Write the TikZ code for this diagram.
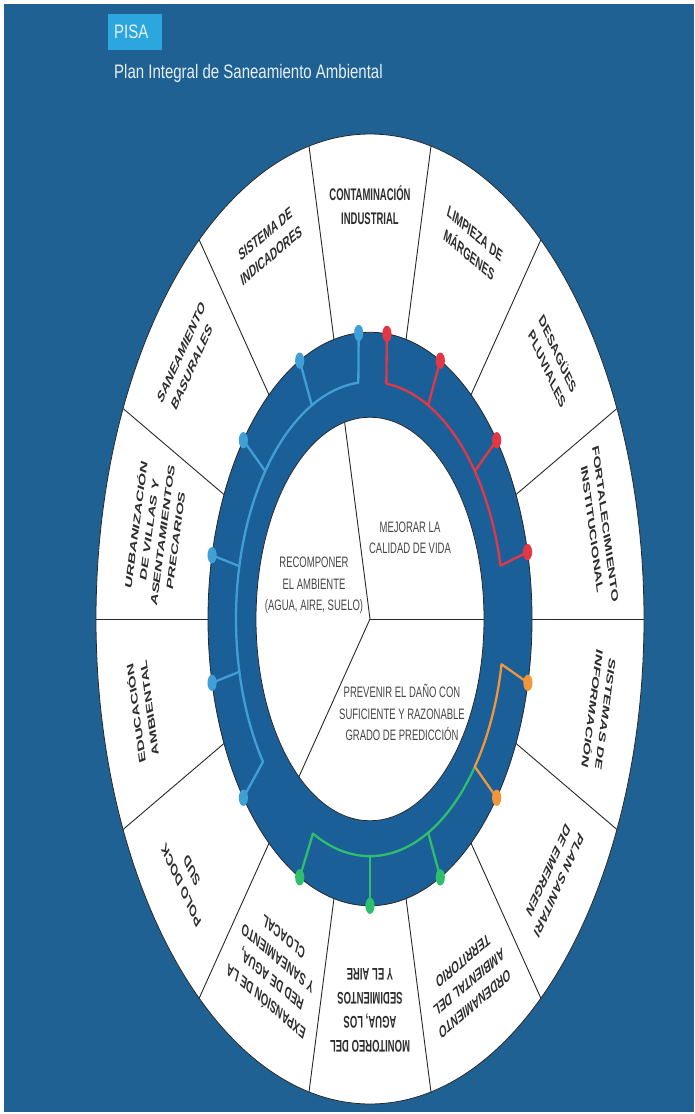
\documentclass[tikz,border=0pt]{standalone}
\usepackage{fontspec}
\setmainfont{Liberation Sans}
\definecolor{bgblue}{RGB}{31,97,146}
\definecolor{ringblue}{RGB}{27,95,152}
\definecolor{pisablue}{RGB}{43,166,222}
\definecolor{titlewhite}{RGB}{232,240,248}
\definecolor{labelgray}{RGB}{45,45,45}
\definecolor{centergray}{RGB}{70,70,70}
\definecolor{edgegray}{RGB}{40,40,40}
\definecolor{tlblue}{RGB}{64,160,214}
\definecolor{tlred}{RGB}{226,56,70}
\definecolor{tlorange}{RGB}{240,150,60}
\definecolor{tlgreen}{RGB}{46,190,110}
\tikzset{
  seglabel/.style={font=\fontsize{9.5}{13.5}\selectfont\bfseries, text=labelgray,
    align=center, anchor=north, inner sep=0pt},
  centerlabel/.style={font=\fontsize{9.5}{13.5}\selectfont, text=centergray,
    align=center, inner sep=0pt, yscale=0.9},
  divider/.style={draw=edgegray, line width=0.9pt},
  track/.style={line width=2.3pt, line cap=round, line join=round},
  titletext/.style={font=\fontsize{15}{18}\selectfont, text=titlewhite,
    inner sep=0pt, anchor=west, transform shape, yscale=1.3}
}
\begin{document}
\begin{tikzpicture}[x=1pt,y=1pt]
\useasboundingbox (0,0) rectangle (695,-1114);
\fill[bgblue] (4,-4) rectangle (694,-1112);
% title
\fill[pisablue] (108,-14) rectangle (162,-50);
\node[titletext] (pisa) at (114,-32) {PISA};
\node[titletext] (plan) at (114,-73) {Plan Integral de Saneamiento Ambiental};
% wheel
\begin{scope}[shift={(370,-619)}, yscale=1.77, transform shape]
  \fill[white] (0,0) circle (274);
  \draw[edgegray, line width=0.8pt] (0,0) circle (274);
  \foreach \k in {0,...,13}{
    \draw[divider] ({\k*360/14}:160) -- ({\k*360/14}:274);
  }
  \fill[ringblue] (0,0) circle (162);
  \draw[edgegray, line width=0.8pt] (0,0) circle (162);
  \fill[white] (0,0) circle (114);
  \draw[edgegray, line width=0.8pt] (0,0) circle (114);
  % centre sectors
  \coordinate (c0) at (0,0);
  \draw[divider] (c0) -- (0:114);
  \draw[divider] (c0) -- ({360/14*4}:114);
  \draw[divider] (c0) -- ({360/14*9}:114);
  \node[centerlabel] (mejorar) at (40,46) {MEJORAR LA\\CALIDAD DE VIDA};
  \node[centerlabel] (recomponer) at (-56,19) {RECOMPONER\\EL AMBIENTE\\(AGUA, AIRE, SUELO)};
  \node[centerlabel] (prevenir) at (32,-53) {PREVENIR EL DAÑO CON\\SUFICIENTE Y RAZONABLE\\GRADO DE PREDICCIÓN};
  % outer labels
  \def\lr{245}
  \node[seglabel, rotate=0] (s1) at (90:\lr) {CONTAMINACIÓN\\INDUSTRIAL};
  \node[seglabel, rotate=-25.714] (s2) at (64.286:\lr) {LIMPIEZA DE\\MÁRGENES};
  \node[seglabel, rotate=-51.429] (s3) at (38.571:\lr) {DESAGÜES\\PLUVIALES};
  \node[seglabel, rotate=-77.143] (s4) at (12.857:\lr) {FORTALECIMIENTO\\INSTITUCIONAL};
  \node[seglabel, rotate=-102.857] (s5) at (-12.857:\lr) {SISTEMAS DE\\INFORMACIÓN};
  \node[seglabel, rotate=-128.571] (s6) at (-38.571:\lr) {PLAN SANITARI\\DE EMERGEN};
  \node[seglabel, rotate=-154.286] (s7) at (-64.286:\lr) {ORDENAMIENTO\\AMBIENTAL DEL\\TERRITORIO};
  \node[seglabel, rotate=180] (s8) at (270:\lr) {MONITOREO DEL\\AGUA, LOS\\SEDIMIENTOS\\Y EL AIRE};
  \node[seglabel, rotate=154.286] (s9) at (244.286:\lr) {EXPANSIÓN DE LA\\RED DE AGUA,\\Y SANEAMIENTO\\CLOACAL};
  \node[seglabel, rotate=128.571] (s10) at (218.571:\lr) {POLO DOCK\\SUD};
  \node[seglabel, rotate=102.857] (s11) at (192.857:\lr) {EDUCACIÓN\\AMBIENTAL};
  \node[seglabel, rotate=77.143] (s12) at (167.143:\lr) {URBANIZACIÓN\\DE VILLAS Y\\ASENTAMIENTOS\\PRECARIOS};
  \node[seglabel, rotate=51.429] (s13) at (141.429:\lr) {SANEAMIENTO\\BASURALES};
  \node[seglabel, rotate=25.714] (s14) at (115.714:\lr) {SISTEMA DE\\INDICADORES};
  % tracks
  \def\tr{134}
  \def\dr{162}
  % light blue
  \draw[track, tlblue] (94:\dr) -- (95:\tr) arc[start angle=95, end angle=217, radius=\tr] -- (218.571:\dr);
  \foreach \a in {115.714,141.429,167.143,192.857}{
    \draw[track, tlblue] (\a:\dr) -- (\a:\tr);
  }
  \foreach \a in {94,115.714,141.429,167.143,192.857,218.571}{
    \fill[tlblue] (\a:\dr) circle (4.6);
  }
  % red
  \draw[track, tlred] (84:\dr) -- (83:\tr) arc[start angle=83, end angle=13, radius=\tr] -- (13.5:\dr);
  \foreach \a in {64.286,38.571}{
    \draw[track, tlred] (\a:\dr) -- (\a:\tr);
  }
  \foreach \a in {84,64.286,38.571,13.5}{
    \fill[tlred] (\a:\dr) circle (4.6);
  }
  % green
  \draw[track, tlgreen] (244.286:\dr) -- (244.8:\tr) arc[start angle=244.8, end angle=321.5, radius=\tr];
  \foreach \a in {270,295.714}{
    \draw[track, tlgreen] (\a:\dr) -- (\a:\tr);
  }
  \foreach \a in {244.286,270,295.714}{
    \fill[tlgreen] (\a:\dr) circle (4.6);
  }
  % orange
  \draw[track, tlorange] (-12.857:\dr) -- (-11:\tr) arc[start angle=-11, end angle=-38.5, radius=\tr] -- (-38.571:\dr);
  \foreach \a in {-12.857,-38.571}{
    \fill[tlorange] (\a:\dr) circle (4.6);
  }
\end{scope}
\end{tikzpicture}
\end{document}
